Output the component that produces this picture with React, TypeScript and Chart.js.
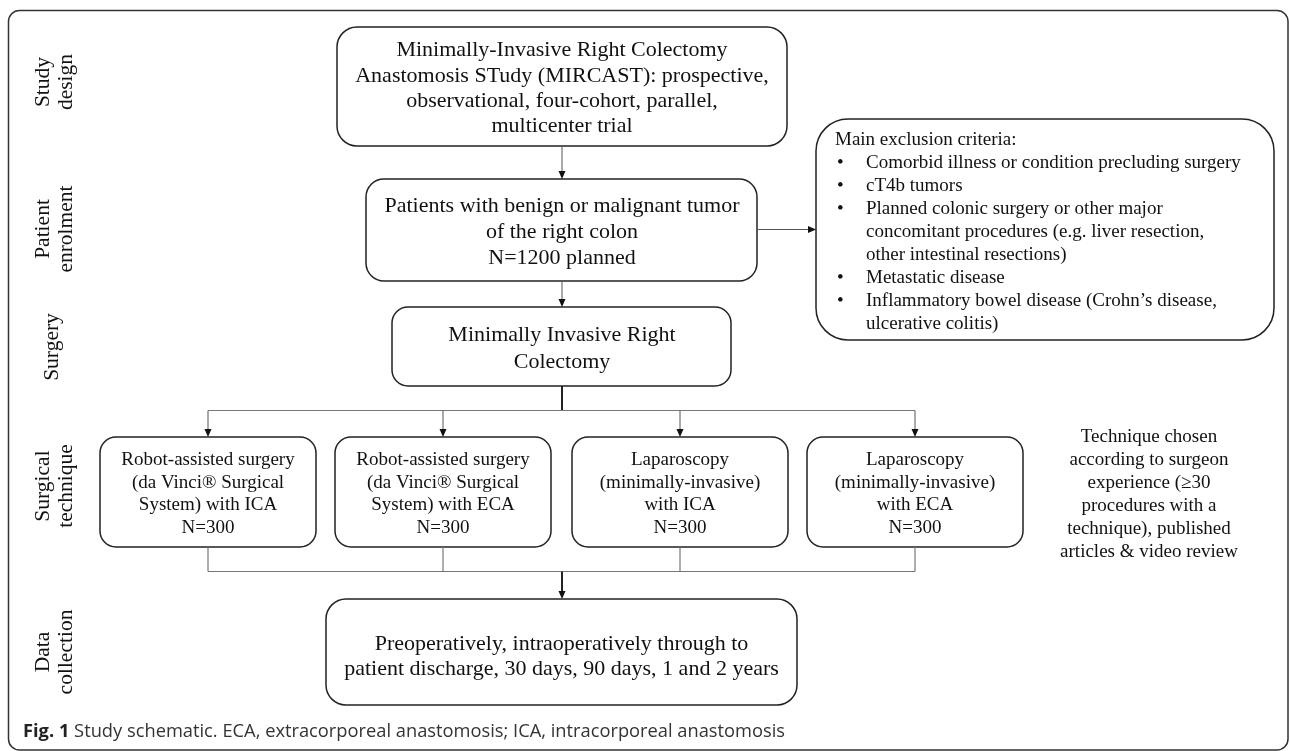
import React, { useEffect, useRef } from "react";
import { Chart, registerables } from "chart.js";

Chart.register(...registerables);

// ---------- content (data) ----------
const stageLabels: string[][] = [
  ["Study", "design"],
  ["Patient", "enrolment"],
  ["Surgery"],
  ["Surgical", "technique"],
  ["Data", "collection"],
];
const designText = [
  "Minimally-Invasive Right Colectomy",
  "Anastomosis STudy (MIRCAST): prospective,",
  "observational, four-cohort, parallel,",
  "multicenter trial",
];
const enrolmentText = ["Patients with benign or malignant tumor", "of the right colon"];
const plannedN = 1200;
const surgeryText = ["Minimally Invasive Right", "Colectomy"];
const cohortText: string[][] = [
  ["Robot-assisted surgery", "(da Vinci® Surgical", "System) with ICA"],
  ["Robot-assisted surgery", "(da Vinci® Surgical", "System) with ECA"],
  ["Laparoscopy", "(minimally-invasive)", "with ICA"],
  ["Laparoscopy", "(minimally-invasive)", "with ECA"],
];
const cohortN = [300, 300, 300, 300];
const exclusionTitle = "Main exclusion criteria:";
const exclusionItems: string[][] = [
  ["Comorbid illness or condition precluding surgery"],
  ["cT4b tumors"],
  ["Planned colonic surgery or other major", "concomitant procedures (e.g. liver resection,", "other intestinal resections)"],
  ["Metastatic disease"],
  ["Inflammatory bowel disease (Crohn\u2019s disease,", "ulcerative colitis)"],
];
const techniqueNote = [
  "Technique chosen",
  "according to surgeon",
  "experience (\u226530",
  "procedures with a",
  "technique), published",
  "articles & video review",
];
const collectionText = [
  "Preoperatively, intraoperatively through to",
  "patient discharge, 30 days, 90 days, 1 and 2 years",
];
const captionBold = "Fig. 1";
const captionText = " Study schematic. ECA, extracorporeal anastomosis; ICA, intracorporeal anastomosis";

// ---------- layout (positions / sizes / styles) ----------
const W = 1290;
const H = 751;
type Box = { x0: number; y0: number; x1: number; y1: number; r: number };
const FRAME: Box = { x0: 8.5, y0: 10.5, x1: 1288, y1: 750, r: 11 };
const DESIGN_BOX: Box = { x0: 337, y0: 27, x1: 787, y1: 146, r: 20 };
const ENROL_BOX: Box = { x0: 366, y0: 179, x1: 757, y1: 281, r: 18 };
const SURGERY_BOX: Box = { x0: 392, y0: 307, x1: 731, y1: 386, r: 16 };
const EXCL_BOX: Box = { x0: 816, y0: 119, x1: 1274, y1: 340, r: 32 };
const COHORT_X0 = [100, 335, 572, 807];
const COHORT_W = 216;
const COHORT_Y0 = 437;
const COHORT_Y1 = 547;
const COLLECT_BOX: Box = { x0: 326, y0: 599, x1: 797, y1: 705, r: 20 };
const SPINE_X = 562;
const SPLIT_Y = 410.5;
const MERGE_Y = 571.5;
const TEXT_DY = 2;
const STAGE_POS = [
  { x: 55, y: 82 },
  { x: 55, y: 229 },
  { x: 52, y: 347 },
  { x: 55, y: 486 },
  { x: 55, y: 652 },
];
const SERIF = '"Liberation Serif", "Times New Roman", serif';
const BIG_FONT = `22px ${SERIF}`;
const LABEL_FONT = `21.5px ${SERIF}`;
const SMALL_FONT = `19px ${SERIF}`;
const STROKE = "#222";
const CONNECT = "#777";

const diagramPlugin = {
  id: "diagram",
  beforeDraw(chart: any) {
    const ctx: CanvasRenderingContext2D = chart.ctx;
    const sx = chart.scales.x;
    const sy = chart.scales.y;
    const X = (v: number) => sx.getPixelForValue(v);
    const Y = (v: number) => sy.getPixelForValue(v);

    ctx.save();
    ctx.fillStyle = "#fff";
    ctx.fillRect(0, 0, chart.width, chart.height);

    const rr = (b: Box, color: string, lw: number) => {
      const x0 = X(b.x0), y0 = Y(b.y0), x1 = X(b.x1), y1 = Y(b.y1), r = b.r;
      ctx.beginPath();
      ctx.moveTo(x0 + r, y0);
      ctx.arcTo(x1, y0, x1, y1, r);
      ctx.arcTo(x1, y1, x0, y1, r);
      ctx.arcTo(x0, y1, x0, y0, r);
      ctx.arcTo(x0, y0, x1, y0, r);
      ctx.closePath();
      ctx.strokeStyle = color;
      ctx.lineWidth = lw;
      ctx.stroke();
    };
    const line = (pts: number[][], color: string, lw: number) => {
      ctx.beginPath();
      pts.forEach((p, i) => (i ? ctx.lineTo(X(p[0]), Y(p[1])) : ctx.moveTo(X(p[0]), Y(p[1]))));
      ctx.strokeStyle = color;
      ctx.lineWidth = lw;
      ctx.stroke();
    };
    const arrow = (x0: number, y0: number, x1: number, y1: number, color: string, lw: number) => {
      const ang = Math.atan2(Y(y1) - Y(y0), X(x1) - X(x0));
      const len = 8, half = 3.5;
      const ex = X(x1) - Math.cos(ang) * len;
      const ey = Y(y1) - Math.sin(ang) * len;
      ctx.beginPath();
      ctx.moveTo(X(x0), Y(y0));
      ctx.lineTo(ex, ey);
      ctx.strokeStyle = color;
      ctx.lineWidth = lw;
      ctx.stroke();
      ctx.beginPath();
      ctx.moveTo(X(x1), Y(y1));
      ctx.lineTo(ex - Math.sin(ang) * half, ey + Math.cos(ang) * half);
      ctx.lineTo(ex + Math.sin(ang) * half, ey - Math.cos(ang) * half);
      ctx.closePath();
      ctx.fillStyle = "#111";
      ctx.fill();
    };
    const textLines = (lines: string[], cx: number, cy: number, spacing: number, font: string) => {
      ctx.font = font;
      ctx.fillStyle = "#111";
      ctx.textAlign = "center";
      ctx.textBaseline = "middle";
      const start = cy + TEXT_DY - ((lines.length - 1) * spacing) / 2;
      lines.forEach((t, i) => ctx.fillText(t, X(cx), Y(start + i * spacing)));
    };

    // outer frame
    rr(FRAME, "#333", 1.5);

    // stage labels (rotated)
    ctx.font = LABEL_FONT;
    ctx.fillStyle = "#111";
    ctx.textAlign = "center";
    ctx.textBaseline = "middle";
    stageLabels.forEach((lab, i) => {
      const p = STAGE_POS[i];
      ctx.save();
      ctx.translate(X(p.x), Y(p.y));
      ctx.rotate(-Math.PI / 2);
      const sp = 23;
      const st = -((lab.length - 1) * sp) / 2;
      lab.forEach((t, j) => ctx.fillText(t, 0, st + j * sp));
      ctx.restore();
    });

    // main boxes
    rr(DESIGN_BOX, STROKE, 1.5);
    textLines(designText, SPINE_X, (DESIGN_BOX.y0 + DESIGN_BOX.y1) / 2, 25.3, BIG_FONT);

    rr(ENROL_BOX, STROKE, 1.5);
    textLines([...enrolmentText, `N=${plannedN} planned`], SPINE_X, (ENROL_BOX.y0 + ENROL_BOX.y1) / 2, 25.8, BIG_FONT);

    rr(SURGERY_BOX, STROKE, 1.5);
    textLines(surgeryText, SPINE_X, (SURGERY_BOX.y0 + SURGERY_BOX.y1) / 2, 27, BIG_FONT);

    // exclusion box
    rr(EXCL_BOX, STROKE, 1.5);
    ctx.font = SMALL_FONT;
    ctx.fillStyle = "#111";
    ctx.textAlign = "left";
    ctx.textBaseline = "middle";
    let ly = 138.5 + TEXT_DY;
    const lsp = 23;
    ctx.fillText(exclusionTitle, X(835), Y(ly));
    exclusionItems.forEach((item) => {
      item.forEach((t, j) => {
        ly += lsp;
        if (j === 0) ctx.fillText("\u2022", X(837), Y(ly));
        ctx.fillText(t, X(866), Y(ly));
      });
    });

    // cohort boxes
    const centers = COHORT_X0.map((x) => x + COHORT_W / 2);
    COHORT_X0.forEach((x0, i) => {
      rr({ x0, y0: COHORT_Y0, x1: x0 + COHORT_W, y1: COHORT_Y1, r: 16 }, STROKE, 1.5);
      textLines([...cohortText[i], `N=${cohortN[i]}`], centers[i], (COHORT_Y0 + COHORT_Y1) / 2, 22.8, SMALL_FONT);
    });

    // technique note
    textLines(techniqueNote, 1149, 492.5, 23, SMALL_FONT);

    // collection box
    rr(COLLECT_BOX, STROKE, 1.5);
    textLines(collectionText, (COLLECT_BOX.x0 + COLLECT_BOX.x1) / 2, 654.5, 25, BIG_FONT);

    // connectors
    arrow(SPINE_X, DESIGN_BOX.y1, SPINE_X, ENROL_BOX.y0, "#555", 1);
    arrow(SPINE_X, ENROL_BOX.y1, SPINE_X, SURGERY_BOX.y0, "#555", 1);
    arrow(ENROL_BOX.x1, 229.5, EXCL_BOX.x0, 229.5, "#555", 1);
    line([[SPINE_X, SURGERY_BOX.y1], [SPINE_X, SPLIT_Y]], "#222", 2);
    line([[centers[0], SPLIT_Y], [centers[3], SPLIT_Y]], CONNECT, 1.2);
    centers.forEach((c) => arrow(c, SPLIT_Y, c, COHORT_Y0, "#555", 1));
    centers.forEach((c) => line([[c, COHORT_Y1], [c, MERGE_Y]], CONNECT, 1.2));
    line([[centers[0], MERGE_Y], [centers[3], MERGE_Y]], CONNECT, 1.2);
    arrow(SPINE_X, MERGE_Y, SPINE_X, COLLECT_BOX.y0, "#222", 2);

    // caption
    ctx.textAlign = "left";
    ctx.textBaseline = "middle";
    ctx.fillStyle = "#222";
    ctx.font = `bold 18.3px "Open Sans", sans-serif`;
    ctx.fillText(captionBold, X(23), Y(732));
    const bw = ctx.measureText(captionBold).width;
    ctx.font = `18.3px "Open Sans", sans-serif`;
    ctx.fillStyle = "#333";
    ctx.fillText(captionText, X(23) + bw, Y(732));

    ctx.restore();
  },
};

export default function App() {
  const ref = useRef<HTMLCanvasElement>(null);
  useEffect(() => {
    document.body.style.margin = "0";
    if (!ref.current) return;
    const chart = new Chart(ref.current, {
      type: "scatter",
      data: { datasets: [{ data: [], showLine: false }] },
      options: {
        animation: false,
        responsive: false,
        devicePixelRatio: 1,
        layout: { padding: 0 },
        plugins: { legend: { display: false }, tooltip: { enabled: false } },
        scales: {
          x: { type: "linear", min: 0, max: W, display: false },
          y: { type: "linear", min: 0, max: H, reverse: true, display: false },
        },
      },
      plugins: [diagramPlugin],
    });
    return () => chart.destroy();
  }, []);
  return (
    <div style={{ width: W, height: H }}>
      <canvas ref={ref} width={W} height={H} style={{ display: "block" }} />
    </div>
  );
}
